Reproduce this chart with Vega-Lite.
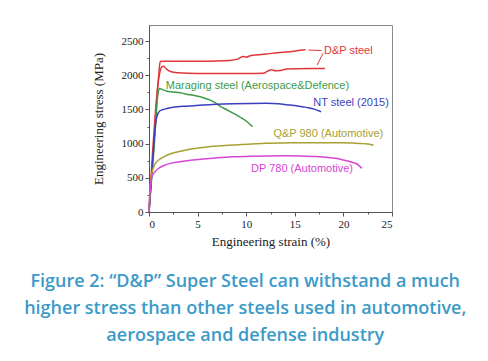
{
  "$schema": "https://vega.github.io/schema/vega-lite/v6.json",
  "width": 243,
  "height": 187,
  "padding": {"left": 24, "top": 25, "right": 5, "bottom": 5},
  "background": "white",
  "config": {
    "view": {"stroke": "#8a8a8a", "strokeWidth": 1},
    "axis": {
      "labelFont": "Liberation Serif",
      "titleFont": "Liberation Serif",
      "labelFontSize": 11,
      "titleFontSize": 13,
      "titleFontWeight": "normal",
      "labelColor": "#222",
      "titleColor": "#222",
      "domainColor": "#555",
      "tickColor": "#555",
      "labelOverlap": false,
      "grid": false
    }
  },
  "title": {
    "text": ["Figure 2: “D&P” Super Steel can withstand a much", "higher stress than other steels used in automotive,", "aerospace and defense industry"],
    "orient": "bottom",
    "anchor": "middle",
    "frame": "bounds",
    "dx": 3,
    "font": "Open Sans",
    "fontSize": 18,
    "fontWeight": 600,
    "color": "#3b9ac8",
    "lineHeight": 27,
    "offset": 25
  },
  "data": {
    "values": [
      {"k": "curve", "s": "D&P upper", "x": 0, "y": 0}, {"k": "curve", "s": "D&P upper", "x": 0.5, "y": 1000}, {"k": "curve", "s": "D&P upper", "x": 1.0, "y": 2000}, {"k": "curve", "s": "D&P upper", "x": 1.15, "y": 2200}, {"k": "curve", "s": "D&P upper", "x": 1.5, "y": 2205}, {"k": "curve", "s": "D&P upper", "x": 3, "y": 2205}, {"k": "curve", "s": "D&P upper", "x": 5, "y": 2205}, {"k": "curve", "s": "D&P upper", "x": 7, "y": 2210}, {"k": "curve", "s": "D&P upper", "x": 8.5, "y": 2220}, {"k": "curve", "s": "D&P upper", "x": 9.2, "y": 2240}, {"k": "curve", "s": "D&P upper", "x": 9.7, "y": 2275}, {"k": "curve", "s": "D&P upper", "x": 10, "y": 2265}, {"k": "curve", "s": "D&P upper", "x": 10.5, "y": 2290}, {"k": "curve", "s": "D&P upper", "x": 11.2, "y": 2300}, {"k": "curve", "s": "D&P upper", "x": 12, "y": 2310}, {"k": "curve", "s": "D&P upper", "x": 13.2, "y": 2330}, {"k": "curve", "s": "D&P upper", "x": 14.5, "y": 2345}, {"k": "curve", "s": "D&P upper", "x": 15.6, "y": 2365}, {"k": "curve", "s": "D&P upper", "x": 16.1, "y": 2372},
      {"k": "curve", "s": "D&P lower", "x": 0, "y": 0}, {"k": "curve", "s": "D&P lower", "x": 1.0, "y": 1950}, {"k": "curve", "s": "D&P lower", "x": 1.3, "y": 2120}, {"k": "curve", "s": "D&P lower", "x": 1.5, "y": 2130}, {"k": "curve", "s": "D&P lower", "x": 1.8, "y": 2090}, {"k": "curve", "s": "D&P lower", "x": 2.2, "y": 2055}, {"k": "curve", "s": "D&P lower", "x": 3, "y": 2035}, {"k": "curve", "s": "D&P lower", "x": 4, "y": 2028}, {"k": "curve", "s": "D&P lower", "x": 6, "y": 2025}, {"k": "curve", "s": "D&P lower", "x": 8, "y": 2025}, {"k": "curve", "s": "D&P lower", "x": 10, "y": 2025}, {"k": "curve", "s": "D&P lower", "x": 11.8, "y": 2030}, {"k": "curve", "s": "D&P lower", "x": 12.2, "y": 2060}, {"k": "curve", "s": "D&P lower", "x": 12.6, "y": 2080}, {"k": "curve", "s": "D&P lower", "x": 13, "y": 2065}, {"k": "curve", "s": "D&P lower", "x": 13.5, "y": 2070}, {"k": "curve", "s": "D&P lower", "x": 14.2, "y": 2090}, {"k": "curve", "s": "D&P lower", "x": 15, "y": 2095}, {"k": "curve", "s": "D&P lower", "x": 16.9, "y": 2100}, {"k": "curve", "s": "D&P lower", "x": 18.1, "y": 2100},
      {"k": "curve", "s": "Maraging", "x": 0, "y": 0}, {"k": "curve", "s": "Maraging", "x": 0.5, "y": 900}, {"k": "curve", "s": "Maraging", "x": 0.9, "y": 1700}, {"k": "curve", "s": "Maraging", "x": 1.06, "y": 1808}, {"k": "curve", "s": "Maraging", "x": 1.4, "y": 1790}, {"k": "curve", "s": "Maraging", "x": 1.8, "y": 1769}, {"k": "curve", "s": "Maraging", "x": 2.5, "y": 1755}, {"k": "curve", "s": "Maraging", "x": 3.2, "y": 1745}, {"k": "curve", "s": "Maraging", "x": 4.0, "y": 1720}, {"k": "curve", "s": "Maraging", "x": 4.9, "y": 1696}, {"k": "curve", "s": "Maraging", "x": 5.6, "y": 1670}, {"k": "curve", "s": "Maraging", "x": 6.3, "y": 1637}, {"k": "curve", "s": "Maraging", "x": 6.8, "y": 1600}, {"k": "curve", "s": "Maraging", "x": 7.3, "y": 1550}, {"k": "curve", "s": "Maraging", "x": 8.0, "y": 1495}, {"k": "curve", "s": "Maraging", "x": 8.7, "y": 1442}, {"k": "curve", "s": "Maraging", "x": 9.4, "y": 1385}, {"k": "curve", "s": "Maraging", "x": 10.1, "y": 1320}, {"k": "curve", "s": "Maraging", "x": 10.65, "y": 1248},
      {"k": "curve", "s": "NT", "x": 0, "y": 0}, {"k": "curve", "s": "NT", "x": 0.4, "y": 800}, {"k": "curve", "s": "NT", "x": 0.65, "y": 1250}, {"k": "curve", "s": "NT", "x": 0.8, "y": 1394}, {"k": "curve", "s": "NT", "x": 1.13, "y": 1481}, {"k": "curve", "s": "NT", "x": 1.6, "y": 1505}, {"k": "curve", "s": "NT", "x": 2.2, "y": 1525}, {"k": "curve", "s": "NT", "x": 3.5, "y": 1545}, {"k": "curve", "s": "NT", "x": 4.6, "y": 1555}, {"k": "curve", "s": "NT", "x": 6.5, "y": 1572}, {"k": "curve", "s": "NT", "x": 8.7, "y": 1584}, {"k": "curve", "s": "NT", "x": 10.5, "y": 1588}, {"k": "curve", "s": "NT", "x": 12.1, "y": 1589}, {"k": "curve", "s": "NT", "x": 13.3, "y": 1582}, {"k": "curve", "s": "NT", "x": 14.2, "y": 1569}, {"k": "curve", "s": "NT", "x": 15.3, "y": 1552}, {"k": "curve", "s": "NT", "x": 16.2, "y": 1530}, {"k": "curve", "s": "NT", "x": 17.0, "y": 1505}, {"k": "curve", "s": "NT", "x": 17.7, "y": 1467},
      {"k": "curve", "s": "Q&P", "x": 0, "y": 0}, {"k": "curve", "s": "Q&P", "x": 0.1, "y": 300}, {"k": "curve", "s": "Q&P", "x": 0.2, "y": 480}, {"k": "curve", "s": "Q&P", "x": 0.35, "y": 600}, {"k": "curve", "s": "Q&P", "x": 0.62, "y": 702}, {"k": "curve", "s": "Q&P", "x": 1.0, "y": 760}, {"k": "curve", "s": "Q&P", "x": 1.48, "y": 804}, {"k": "curve", "s": "Q&P", "x": 2.3, "y": 855}, {"k": "curve", "s": "Q&P", "x": 3.5, "y": 897}, {"k": "curve", "s": "Q&P", "x": 4.5, "y": 925}, {"k": "curve", "s": "Q&P", "x": 5.6, "y": 945}, {"k": "curve", "s": "Q&P", "x": 7, "y": 965}, {"k": "curve", "s": "Q&P", "x": 8.7, "y": 980}, {"k": "curve", "s": "Q&P", "x": 10.5, "y": 995}, {"k": "curve", "s": "Q&P", "x": 12.1, "y": 1004}, {"k": "curve", "s": "Q&P", "x": 14, "y": 1010}, {"k": "curve", "s": "Q&P", "x": 15.6, "y": 1014}, {"k": "curve", "s": "Q&P", "x": 18, "y": 1014}, {"k": "curve", "s": "Q&P", "x": 19.7, "y": 1012}, {"k": "curve", "s": "Q&P", "x": 21, "y": 1008}, {"k": "curve", "s": "Q&P", "x": 22.1, "y": 1000}, {"k": "curve", "s": "Q&P", "x": 22.7, "y": 990}, {"k": "curve", "s": "Q&P", "x": 23.1, "y": 975},
      {"k": "curve", "s": "DP", "x": 0, "y": 0}, {"k": "curve", "s": "DP", "x": 0.1, "y": 300}, {"k": "curve", "s": "DP", "x": 0.2, "y": 460}, {"k": "curve", "s": "DP", "x": 0.27, "y": 502}, {"k": "curve", "s": "DP", "x": 0.4, "y": 550}, {"k": "curve", "s": "DP", "x": 0.62, "y": 590}, {"k": "curve", "s": "DP", "x": 1.0, "y": 640}, {"k": "curve", "s": "DP", "x": 1.48, "y": 677}, {"k": "curve", "s": "DP", "x": 2.3, "y": 715}, {"k": "curve", "s": "DP", "x": 3.5, "y": 741}, {"k": "curve", "s": "DP", "x": 4.5, "y": 760}, {"k": "curve", "s": "DP", "x": 5.6, "y": 775}, {"k": "curve", "s": "DP", "x": 7, "y": 793}, {"k": "curve", "s": "DP", "x": 8.7, "y": 809}, {"k": "curve", "s": "DP", "x": 10.5, "y": 817}, {"k": "curve", "s": "DP", "x": 12.1, "y": 820}, {"k": "curve", "s": "DP", "x": 14, "y": 821}, {"k": "curve", "s": "DP", "x": 15.6, "y": 820}, {"k": "curve", "s": "DP", "x": 17, "y": 812}, {"k": "curve", "s": "DP", "x": 18.3, "y": 800}, {"k": "curve", "s": "DP", "x": 19.2, "y": 785}, {"k": "curve", "s": "DP", "x": 20.0, "y": 760}, {"k": "curve", "s": "DP", "x": 20.8, "y": 730}, {"k": "curve", "s": "DP", "x": 21.4, "y": 702}, {"k": "curve", "s": "DP", "x": 21.9, "y": 638},
      {"k": "label", "s": "D&P upper", "label": "D&P steel", "x": 18.0, "y": 2359},
      {"k": "label", "s": "Maraging", "label": "Maraging steel (Aerospace&Defence)", "x": 1.72, "y": 1847},
      {"k": "label", "s": "NT", "label": "NT steel (2015)", "x": 16.9, "y": 1598},
      {"k": "label", "s": "Q&P", "label": "Q&P 980 (Automotive)", "x": 12.8, "y": 1135},
      {"k": "label", "s": "DP", "label": "DP 780 (Automotive)", "x": 10.5, "y": 629},
      {"k": "arrow", "s": "D&P upper", "x": 17.75, "y": 2362, "x2": 16.4, "y2": 2368},
      {"k": "arrow", "s": "D&P upper", "x": 17.9, "y": 2320, "x2": 17.3, "y2": 2150}
    ]
  },
  "encoding": {
    "x": {
      "field": "x", "type": "quantitative",
      "scale": {"domain": [0, 25], "nice": false},
      "axis": {
        "title": "Engineering strain (%)",
        "values": [0, 2.5, 5, 7.5, 10, 12.5, 15, 17.5, 20, 22.5, 25],
        "labelExpr": "datum.value % 5 === 0 ? datum.label : ''",
        "labelOverlap": false,
        "tickSize": {"condition": {"test": "datum.value % 5 === 0", "value": 4}, "value": 2},
        "labelPadding": 2,
        "titlePadding": 6
      }
    },
    "y": {
      "field": "y", "type": "quantitative",
      "scale": {"domain": [0, 2735], "nice": false},
      "axis": {
        "title": "Engineering stress (MPa)",
        "values": [0, 250, 500, 750, 1000, 1250, 1500, 1750, 2000, 2250, 2500],
        "labelExpr": "datum.value % 500 === 0 ? datum.label : ''",
        "labelOverlap": false,
        "format": "d",
        "tickSize": {"condition": {"test": "datum.value % 500 === 0", "value": 4}, "value": 2},
        "labelPadding": 2,
        "titlePadding": 16
      }
    },
    "color": {
      "field": "s", "type": "nominal", "legend": null,
      "scale": {
        "domain": ["D&P upper", "D&P lower", "Maraging", "NT", "Q&P", "DP"],
        "range": ["#e0363a", "#e0363a", "#3e9b4a", "#3a3fbf", "#a8a032", "#d845d4"]
      }
    }
  },
  "layer": [
    {
      "transform": [{"filter": "datum.k === 'curve'"}],
      "mark": {"type": "line", "strokeWidth": 1.5, "interpolate": "monotone"},
      "encoding": {"detail": {"field": "s"}}
    },
    {
      "transform": [{"filter": "datum.k === 'arrow'"}],
      "mark": {"type": "rule", "strokeWidth": 1},
      "encoding": {"x2": {"field": "x2"}, "y2": {"field": "y2"}}
    },
    {
      "transform": [{"filter": "datum.k === 'label'"}],
      "mark": {"type": "text", "align": "left", "baseline": "middle", "font": "Liberation Sans", "fontSize": 11},
      "encoding": {"text": {"field": "label"}}
    }
  ]
}
